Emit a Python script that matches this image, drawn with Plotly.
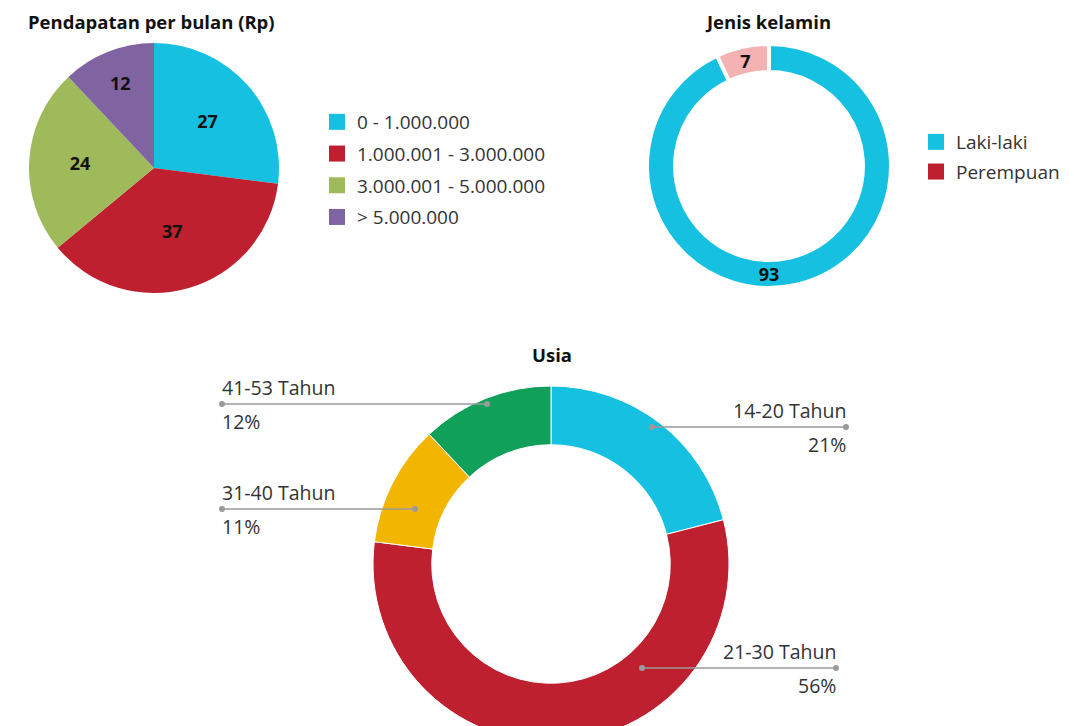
import plotly.graph_objects as go

# ---------------- data ----------------
income_labels = ["0 - 1.000.000", "1.000.001 - 3.000.000", "3.000.001 - 5.000.000", "> 5.000.000"]
income_values = [27, 37, 24, 12]
income_colors = ["#16C0E0", "#BE2030", "#9FBA5A", "#8064A2"]

gender_labels = ["Laki-laki", "Perempuan"]
gender_values = [93, 7]
gender_slice_colors = ["#16C0E0", "#F4B2B2"]
gender_legend_colors = ["#16C0E0", "#BE2030"]

age_labels = ["14-20 Tahun", "21-30 Tahun", "31-40 Tahun", "41-53 Tahun"]
age_values = [21, 56, 11, 12]
age_colors = ["#16C0E0", "#BE2030", "#F2B500", "#11A05A"]

# ---------------- layout helpers ----------------
OFF = 8  # page body margin
W, H = 1066, 740
def xp(px):
    return (px - OFF) / W
def yp(py):
    return 1 - (py - OFF) / H

FONT = "Open Sans"
TXT = "#333333"

fig = go.Figure()

fig.add_trace(go.Pie(
    labels=income_labels, values=income_values, sort=False, direction="clockwise",
    rotation=0, marker=dict(colors=income_colors, line=dict(width=0)),
    textinfo="value", textposition="inside", insidetextorientation="horizontal",
    textfont=dict(family=FONT, size=18, color="#111111", weight="bold"),
    domain=dict(x=[xp(29), xp(279)], y=[yp(293), yp(43)]),
    showlegend=False, hoverinfo="label+value"))

fig.add_trace(go.Pie(
    labels=gender_labels, values=gender_values, sort=False, direction="clockwise",
    rotation=0, hole=0.77, marker=dict(colors=gender_slice_colors, line=dict(width=4, color="white")),
    textinfo="value", textposition="inside", insidetextorientation="horizontal",
    textfont=dict(family=FONT, size=18, color="#111111", weight="bold"),
    domain=dict(x=[xp(647), xp(891)], y=[yp(288), yp(44)]),
    showlegend=False, hoverinfo="label+value"))

fig.add_trace(go.Pie(
    labels=age_labels, values=age_values, sort=False, direction="clockwise",
    rotation=0, hole=0.67, marker=dict(colors=age_colors, line=dict(width=1, color="white")),
    textinfo="none", domain=dict(x=[xp(373), xp(729)], y=[yp(742), yp(386)]),
    showlegend=False, hoverinfo="label+percent"))

# legend entries
for lab, col in zip(income_labels, income_colors):
    fig.add_trace(go.Scatter(x=[None], y=[None], mode="markers", name=lab, legendgroup=lab,
                             marker=dict(symbol="square", size=16, color=col), legend="legend"))
for lab, col in zip(gender_labels, gender_legend_colors):
    fig.add_trace(go.Scatter(x=[None], y=[None], mode="markers", name=lab, legendgroup=lab,
                             marker=dict(symbol="square", size=16, color=col), legend="legend2"))

annotations = [
    dict(text="<b>Pendapatan per bulan (Rp)</b>", x=xp(151), y=yp(21), font=dict(size=18.5, color="#111111")),
    dict(text="<b>Jenis kelamin</b>", x=xp(768), y=yp(21), font=dict(size=18.5, color="#111111")),
    dict(text="<b>Usia</b>", x=xp(552), y=yp(354), font=dict(size=18.5, color="#111111")),
]
for a in annotations:
    a.update(xref="paper", yref="paper", showarrow=False, xanchor="center", yanchor="middle")
    a["font"]["family"] = FONT

# callouts for age donut: (inner dot, outer dot) pixel positions, side
callouts = {
    "14-20 Tahun": ((652, 427), (846, 427), "right"),
    "21-30 Tahun": ((642, 668), (836, 668), "right"),
    "31-40 Tahun": ((415, 509), (222, 509), "left"),
    "41-53 Tahun": ((487, 404), (222, 404), "left"),
}
shapes = []
LC = "#9A9A9A"
for lab, val in zip(age_labels, age_values):
    (x0, y0), (x1, y1), side = callouts[lab]
    shapes.append(dict(type="line", xref="paper", yref="paper", x0=xp(x0), y0=yp(y0), x1=xp(x1), y1=yp(y1),
                       line=dict(color=LC, width=1.5)))
    for (cx, cy) in [(x0, y0), (x1, y1)]:
        shapes.append(dict(type="circle", xref="paper", yref="paper", x0=xp(cx - 3), x1=xp(cx + 3),
                           y0=yp(cy + 3), y1=yp(cy - 3), fillcolor=LC, line=dict(width=0)))
    tx = x1 + 2 if side == "right" else x1 - 2
    anchor = "right" if side == "right" else "left"
    annotations.append(dict(text=lab, x=xp(tx), y=yp(y1 - 17), xref="paper", yref="paper", showarrow=False,
                            xanchor=anchor, yanchor="middle", font=dict(family=FONT, size=19.5, color=TXT)))
    annotations.append(dict(text=f"{val}%", x=xp(tx), y=yp(y1 + 17), xref="paper", yref="paper", showarrow=False,
                            xanchor=anchor, yanchor="middle", font=dict(family=FONT, size=19.5, color=TXT)))

fig.update_layout(
    width=W, height=H, margin=dict(l=0, r=0, t=0, b=0),
    paper_bgcolor="white", plot_bgcolor="white",
    xaxis=dict(visible=False), yaxis=dict(visible=False),
    font=dict(family=FONT, color=TXT),
    annotations=annotations, shapes=shapes,
    legend=dict(x=xp(317), y=yp(103), xanchor="left", yanchor="top", font=dict(size=19, color=TXT),
                tracegroupgap=4, traceorder="grouped", bgcolor="rgba(0,0,0,0)"),
    legend2=dict(x=xp(916), y=yp(123), xanchor="left", yanchor="top", font=dict(size=19, color=TXT),
                 tracegroupgap=2, traceorder="grouped", bgcolor="rgba(0,0,0,0)"),
)

fig.write_html("out.html")
